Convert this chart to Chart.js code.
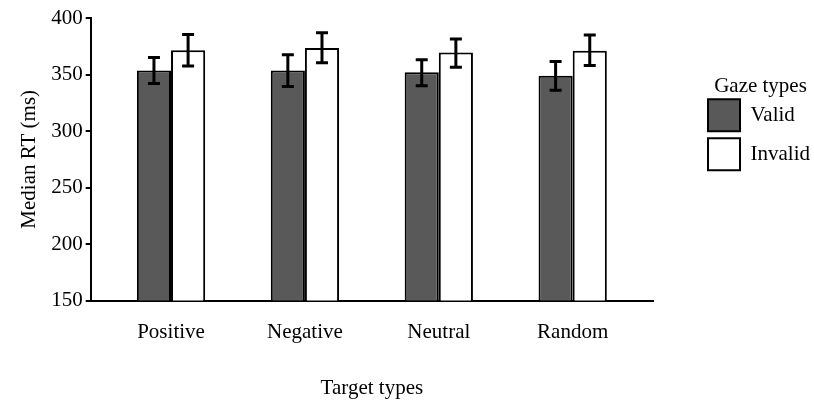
<!DOCTYPE html>
<html>
<head>
<meta charset="utf-8">
<script src="https://cdn.jsdelivr.net/npm/chart.js@4"></script>
<style>
  html, body { margin: 0; padding: 0; background: #fff; }
  #wrap { width: 814px; height: 402px; }
</style>
</head>
<body>
<div id="wrap"><canvas id="rt-chart"></canvas></div>
<script>
// target types on the x axis
const targetTypes = ["Positive", "Negative", "Neutral", "Random"];
const gazeTypes = ["Valid", "Invalid"];

// median RT (ms) and error bar ends
const validRT = [353.5, 353.5, 352, 349];
const validLow = [342, 339.5, 340, 336];
const validHigh = [365, 367.5, 363, 361.5];

const invalidRT = [371.5, 373.5, 369.5, 371];
const invalidLow = [357.5, 360.5, 356.5, 358];
const invalidHigh = [385.5, 387, 381.5, 385];

const yTicks = [150, 200, 250, 300, 350, 400];

const serif = "'Liberation Serif', 'DejaVu Serif', serif";

const errLow = [validLow, invalidLow];
const errHigh = [validHigh, invalidHigh];

// draws the little error bars on top of every bar
const errorBars = {
  id: "errorBars",
  afterDatasetsDraw(chart) {
    const ctx = chart.ctx;
    const y = chart.scales.y;
    ctx.save();
    ctx.strokeStyle = "#000";
    ctx.lineWidth = 3;
    chart.data.datasets.forEach((ds, d) => {
      chart.getDatasetMeta(d).data.forEach((bar, i) => {
        const top = y.getPixelForValue(errHigh[d][i]);
        const bot = y.getPixelForValue(errLow[d][i]);
        const cap = 6;
        ctx.beginPath();
        ctx.moveTo(bar.x, top);
        ctx.lineTo(bar.x, bot);
        ctx.moveTo(bar.x - cap, top);
        ctx.lineTo(bar.x + cap, top);
        ctx.moveTo(bar.x - cap, bot);
        ctx.lineTo(bar.x + cap, bot);
        ctx.stroke();
      });
    });
    ctx.restore();
  }
};

const toPoints = (vals) => vals.map((v, i) => ({ x: i + 1, y: v }));

new Chart(document.getElementById("rt-chart"), {
  type: "bar",
  data: {
    datasets: [
      {
        label: gazeTypes[0],
        data: toPoints(validRT),
        backgroundColor: "#595959",
        borderColor: "#000",
        borderWidth: 2,
        borderSkipped: false
      },
      {
        label: gazeTypes[1],
        data: toPoints(invalidRT),
        backgroundColor: "#ffffff",
        borderColor: "#000",
        borderWidth: 2,
        borderSkipped: false
      }
    ]
  },
  options: {
    responsive: true,
    maintainAspectRatio: false,
    animation: false,
    datasets: { bar: { categoryPercentage: 0.51, barPercentage: 1.0 } },
    layout: { padding: { top: 18, right: -6, left: 13, bottom: 1 } },
    scales: {
      x: {
        type: "linear",
        offset: false,
        min: 0.4,
        max: 4.6,
        afterBuildTicks: (scale) => {
          scale.ticks = targetTypes.map((c, i) => ({ value: i + 1 }));
        },
        ticks: {
          color: "#000",
          font: { family: serif, size: 21 },
          padding: 11,
          callback: (v) => targetTypes[v - 1]
        },
        grid: { display: false },
        border: { color: "#000", width: 2 },
        title: {
          display: true,
          text: "Target types",
          color: "#000",
          font: { family: serif, size: 21 },
          padding: { top: 20, bottom: 0 }
        }
      },
      y: {
        min: 150,
        max: 400,
        afterBuildTicks: (scale) => {
          scale.ticks = yTicks.map((v) => ({ value: v }));
        },
        ticks: {
          color: "#000",
          font: { family: serif, size: 21 },
          padding: 3
        },
        grid: {
          drawOnChartArea: false,
          drawTicks: true,
          tickLength: 5,
          color: "#000",
          lineWidth: 2
        },
        border: { color: "#000", width: 2 },
        title: {
          display: true,
          text: "Median RT (ms)",
          color: "#000",
          font: { family: serif, size: 21 },
          padding: { bottom: 6 }
        }
      },
      // empty axis on the right, only keeps the gap before the legend
      gap: {
        type: "linear",
        position: "right",
        display: true,
        grid: { display: false },
        border: { display: false },
        ticks: { display: false },
        afterFit: (scale) => { scale.width = 48; }
      }
    },
    plugins: {
      tooltip: { enabled: false },
      legend: {
        position: "right",
        align: "start",
        title: {
          display: true,
          text: "Gaze types",
          color: "#000",
          font: { family: serif, size: 21 },
          padding: { top: 58, bottom: -9 }
        },
        labels: {
          color: "#000",
          font: { family: serif, size: 21 },
          boxWidth: 32,
          boxHeight: 32,
          padding: 7
        }
      }
    }
  },
  plugins: [errorBars]
});
</script>
</body>
</html>
